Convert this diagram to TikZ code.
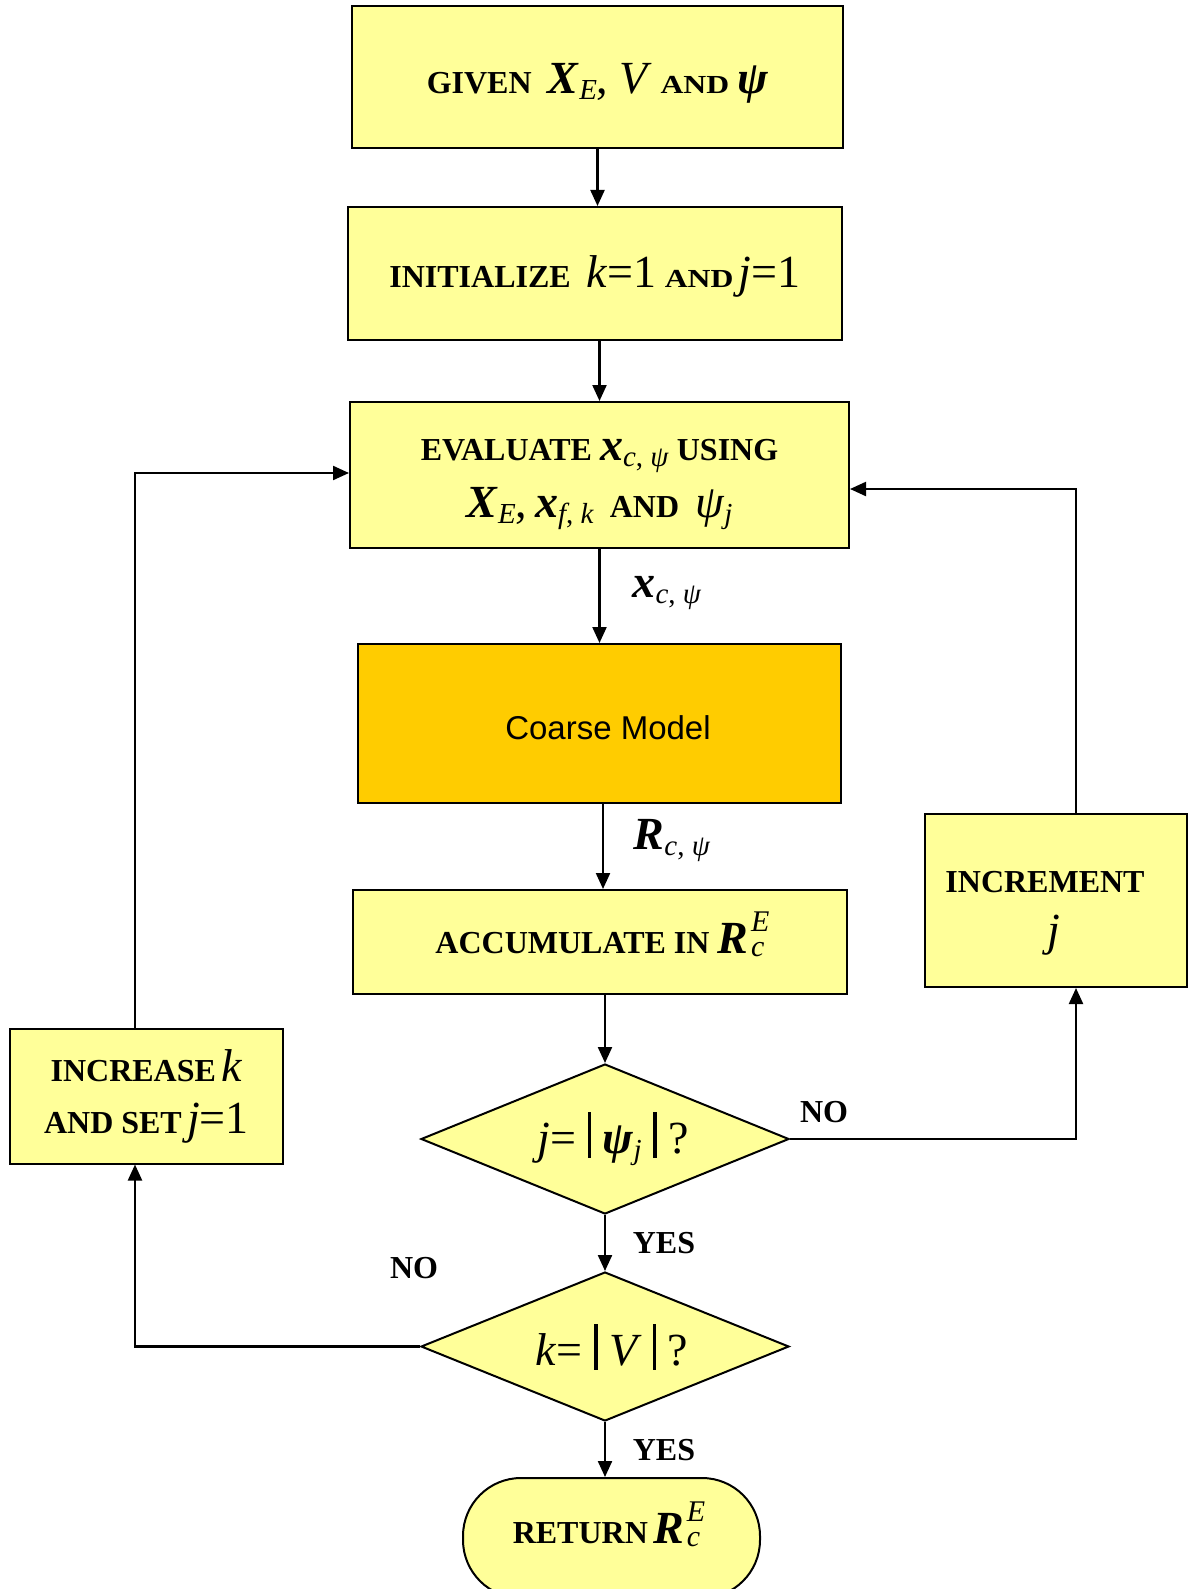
\documentclass[tikz,border=0pt]{standalone}
\usepackage{fontspec}
\usepackage{graphicx}
\setmainfont{Liberation Serif}
\newfontfamily\arialf{Liberation Sans}
\usetikzlibrary{shapes.geometric,arrows.meta}
\definecolor{boxyellow}{HTML}{FFFF99}
\definecolor{coarseorange}{HTML}{FFCC00}
\newcommand\tb{\fontsize{32}{38}\selectfont\bfseries}
\newcommand\smc{\scalebox{1.22}[1]{\fontsize{26}{30}\selectfont\bfseries AND}}
\newcommand\mth{\fontsize{46}{50}\selectfont\mdseries}
\newcommand\bi[1]{\textbf{\textit{#1}}}
\newcommand\sbs[1]{\raisebox{-6pt}{\fontsize{29}{30}\selectfont\mdseries #1}}
\newcommand\supsub[2]{\kern3pt\rlap{\smash{\raisebox{22pt}{\fontsize{30}{30}\selectfont\mdseries\textit{#1}}}}\smash{\raisebox{-3pt}{\fontsize{30}{30}\selectfont\mdseries\textit{#2}}}}
\newcommand\vbar{\rule[-4pt]{3.4pt}{46pt}}
\newcommand\fixbox[3]{\raisebox{0pt}[#1][#2]{#3}}
\tikzset{
  box/.style={rectangle, draw=black, line width=2pt, fill=boxyellow, inner sep=0pt, align=center, font=\tb},
  dec/.style={diamond, draw=black, line width=2pt, fill=boxyellow, inner sep=0pt, aspect=2.45, align=center, font=\tb},
  arr/.style={draw=black, line width=2.2pt, -{Triangle[length=16pt,width=14pt]}},
  lbl/.style={inner sep=0pt, align=center, font=\tb}
}
\begin{document}
\begin{tikzpicture}[x=1pt,y=-1pt]
\path[use as bounding box, fill=white] (0,0) rectangle (1188,1589);

\node[box, minimum width=491pt, minimum height=142pt] (given) at (597.5,77)
  {\fixbox{34pt}{0pt}{GIVEN\ \ {\mth\bi{X}\sbs{\textit{E}}, \textit{V}} \smc\ {\mth\bi{ψ}}}};
\node[box, minimum width=494pt, minimum height=133pt] (init) at (595,273.5)
  {\fixbox{28pt}{0pt}{INITIALIZE\ \ {\mth\textit{k}=1} \smc\,{\mth\textit{j}=1}}};
\node[box, minimum width=499pt, minimum height=146pt] (eval) at (599.5,475)
  {\fixbox{26pt}{0pt}{\begin{tabular}{@{}c@{}}EVALUATE {\mth\bi{x}\sbs{\textit{c}, \textit{ψ}}} USING\\[16pt]
   {\mth\bi{X}\sbs{\textit{E}},\,\bi{x}\sbs{\textit{f}, \textit{k}}}\ \ AND\ \ {\mth\textit{ψ}\sbs{\textit{j}}}\end{tabular}}};
\node[box, fill=coarseorange, minimum width=483pt, minimum height=159pt] (coarse) at (599.5,723.5) {};
\node[lbl, font=\arialf\fontsize{33}{40}\selectfont] (coarsetxt) at (608,728) {Coarse Model};
\node[box, minimum width=494pt, minimum height=104pt] (accum) at (600,942)
  {\fixbox{22pt}{0pt}{ACCUMULATE IN\ {\mth\bi{R}\supsub{E}{c}}}};
\node[box, minimum width=262pt, minimum height=173pt] (incr) at (1056,900.5) {};
\node[lbl] (incrtxt) at (1045,882) {INCREMENT};
\node[lbl] (incrj) at (1054,935) {\mth\textit{j}};
\node[box, minimum width=273pt, minimum height=135pt, font=\fontsize{32}{52}\selectfont\bfseries] (incrk) at (146.5,1096)
  {INCREASE\,{\mth\textit{k}}\\ AND SET\,{\mth\textit{j}=1}};
\node[dec, minimum width=368pt, minimum height=150pt] (d1) at (605,1139)
  {\hspace{16pt}{\mth\textit{j}=\ \vbar\ \bi{ψ}\sbs{\textit{j}}\ \vbar\ ?}};
\node[dec, minimum width=368pt, minimum height=149pt] (d2) at (605,1346.5)
  {\hspace{14pt}{\mth\textit{k}=\ \vbar\ \textit{V}\ \vbar\ ?}};
\node[box, rounded corners=58pt, minimum width=297pt, minimum height=120pt] (ret) at (611.5,1538)
  {\fixbox{10pt}{0pt}{RETURN\,{\mth\bi{R}\supsub{E}{c}}}\hspace{10pt}};

\node[lbl] (xlab) at (667,593) {\mth\bi{x}\sbs{\textit{c}, \textit{ψ}}};
\node[lbl] (rlab) at (672,841) {\mth\bi{R}\sbs{\textit{c}, \textit{ψ}}};
\node[lbl] (yes1) at (664,1243) {YES};
\node[lbl] (yes2) at (664,1450) {YES};
\node[lbl] (no1) at (824,1112) {NO};
\node[lbl] (no2) at (414,1268) {NO};

\draw[arr] (given.south) -- (given.south |- init.north);
\draw[arr] (eval.north |- init.south) -- (eval.north);
\draw[arr] (eval.south) -- (eval.south |- coarse.north);
\draw[arr] ([xshift=3.5pt]coarse.south) -- ([xshift=3.5pt]coarse.south |- accum.north);
\draw[arr] (d1.north |- accum.south) -- (d1.north);
\draw[arr] (d1.south) -- (d2.north);
\draw[arr] (d2.south) -- (d2.south |- ret.north);
\draw[arr] (d1.east) -| ([xshift=20pt]incr.south);
\draw[arr] ([xshift=20pt]incr.north) |- ([yshift=-14pt]eval.east);
\draw[arr] (d2.west) -| ([xshift=-11.5pt]incrk.south);
\draw[arr] ([xshift=-11.5pt]incrk.north) |- ([yshift=2pt]eval.west);
\end{tikzpicture}
\end{document}
